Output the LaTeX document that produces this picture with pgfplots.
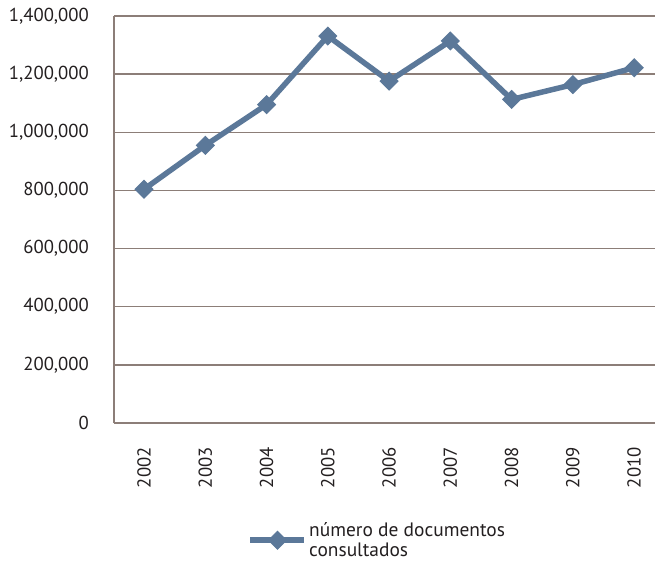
\documentclass[border=0pt]{standalone}
\usepackage{pgfplots}
\pgfplotsset{compat=1.18}
\usepackage{fontspec}
\setmainfont{PT Sans}
\definecolor{serie}{RGB}{91,120,153}
\definecolor{rejilla}{RGB}{140,126,120}
\definecolor{texto}{RGB}{35,31,32}
\begin{document}
\begin{tikzpicture}
\useasboundingbox (0,0) rectangle (655bp,561bp);
\begin{axis}[
  at={(114bp,138bp)}, anchor=south west,
  scale only axis, width=541bp, height=407bp,
  xmin=-0.49, xmax=8.34, ymin=0, ymax=1400000,
  xtick={0,...,8},
  xticklabels={2002,2003,2004,2005,2006,2007,2008,2009,2010},
  ytick={0,200000,...,1400000},
  scaled y ticks=false,
  /pgf/number format/fixed,
  /pgf/number format/1000 sep={,},
  /pgf/number format/assume math mode=true,
  every tick label/.append style={font=\fontsize{18.8}{22}\selectfont, text=texto, inner sep=0pt},
  yticklabel style={anchor=east, xshift=-25bp},
  xticklabel style={rotate=90, anchor=east},
  xticklabel shift=24bp,
  major tick length=0pt,
  ymajorgrids, grid style={rejilla, line width=1.5bp},
  axis x line*=bottom, axis y line*=left,
  axis line style={rejilla, line width=1.8bp},
  legend style={at={(0.245,-0.236)}, anchor=north west, draw=none, fill=none,
    inner sep=1bp, font=\fontsize{19.5}{20.5}\selectfont, text=texto, cells={align=left}},
  legend image code/.code={\draw[#1, mark repeat=2, mark phase=2] plot coordinates {(0bp,0bp)(27bp,0bp)(54bp,0bp)};},
]
\addplot[serie, line width=5.5bp, mark=square*, mark size=6.3bp,
  mark options={rotate=45, line width=1bp, fill=serie}] coordinates {
  (0,804000) (1,955000) (2,1095000) (3,1331000) (4,1176000)
  (5,1314000) (6,1113000) (7,1164000) (8,1222000)
};
\legend{número de documentos\\consultados}
\end{axis}
\end{tikzpicture}
\end{document}
